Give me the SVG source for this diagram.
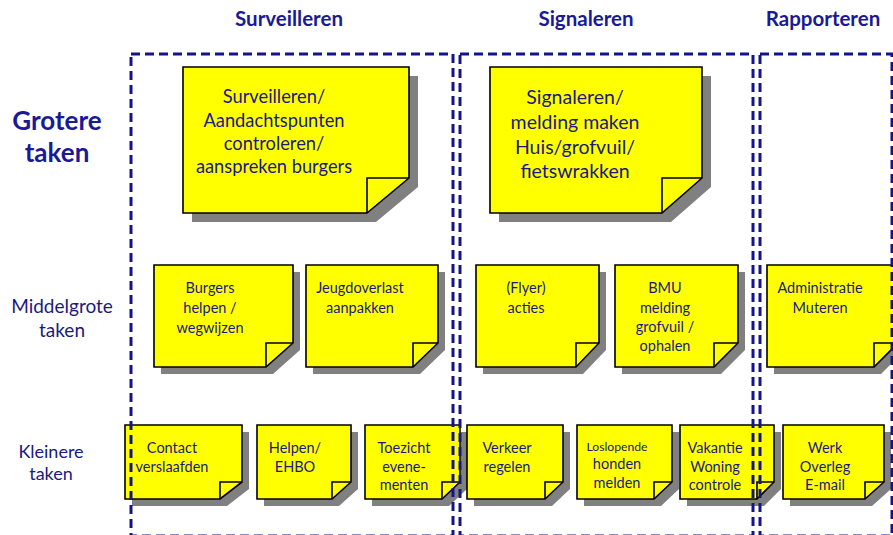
<svg xmlns="http://www.w3.org/2000/svg" width="893" height="535" viewBox="0 0 893 535">
<style>
.sh{fill:#808080}
.nt{fill:#ffff00;stroke:#000;stroke-width:1.6;stroke-linejoin:miter}
.fd{fill:none;stroke:#000;stroke-width:1.6}
.col{fill:none;stroke:#14148a;stroke-width:3;stroke-dasharray:9 5}
text{font-family:Lato,"Open Sans","Liberation Sans",sans-serif;fill:#1a1a80;text-anchor:middle}
.hd{font-size:20.5px;font-weight:bold;fill:#1a1a96}
.big{font-size:18.3px}
.big2{font-size:19.5px}
.mid{font-size:14.5px}
.sm{font-size:14.5px}
</style>
<rect width="893" height="535" fill="#fff"/>
<g id="headers">
<text class="hd" x="289" y="26">Surveilleren</text>
<text class="hd" x="586" y="26">Signaleren</text>
<text class="hd" x="823" y="26">Rapporteren</text>
</g>
<g id="rowlabels">
<text x="57" y="130" style="font-size:26px;font-weight:bold;fill:#1a1a96">Grotere</text>
<text x="57" y="162" style="font-size:26px;font-weight:bold;fill:#1a1a96">taken</text>
<text x="62" y="313" style="font-size:19px">Middelgrote</text>
<text x="62" y="337" style="font-size:19px">taken</text>
<text x="51" y="458" style="font-size:18px">Kleinere</text>
<text x="51" y="480" style="font-size:18px">taken</text>
</g>
<g id="note-surveilleren">
<path class="sh" d="M192 76H418V187L376 222H192Z"/>
<path class="nt" d="M183 67H409V178L367 213H183Z"/>
<path class="fd" d="M367 213V178H409"/>
<text class="big" x="274" y="103">Surveilleren/</text>
<text class="big" x="274" y="127">Aandachtspunten</text>
<text class="big" x="274" y="150">controleren/</text>
<text class="big" x="274" y="173">aanspreken burgers</text>
</g>
<g id="note-signaleren">
<path class="sh" d="M499 76H711V187L671 222H499Z"/>
<path class="nt" d="M490 67H702V178L662 213H490Z"/>
<path class="fd" d="M662 213V178H702"/>
<text class="big2" x="575" y="104">Signaleren/</text>
<text class="big2" x="575" y="129">melding maken</text>
<text class="big2" x="575" y="154">Huis/grofvuil/</text>
<text class="big2" x="575" y="178">fietswrakken</text>
</g>
<g id="note-burgers">
<path class="sh" d="M161 272H300V350L273 374H161Z"/>
<path class="nt" d="M154 265H293V343L266 367H154Z"/>
<path class="fd" d="M266 367V343H293"/>
<text class="mid" x="210" y="293">Burgers</text>
<text class="mid" x="210" y="313">helpen /</text>
<text class="mid" x="210" y="333">wegwijzen</text>
</g>
<g id="note-jeugd">
<path class="sh" d="M313 272H445V350L420 374H313Z"/>
<path class="nt" d="M306 265H438V343L413 367H306Z"/>
<path class="fd" d="M413 367V343H438"/>
<text class="mid" x="360" y="293">Jeugdoverlast</text>
<text class="mid" x="360" y="313">aanpakken</text>
</g>
<g id="note-flyer">
<path class="sh" d="M483 272H606V350L583 374H483Z"/>
<path class="nt" d="M476 265H599V343L576 367H476Z"/>
<path class="fd" d="M576 367V343H599"/>
<text class="mid" x="526" y="293">(Flyer)</text>
<text class="mid" x="526" y="313">acties</text>
</g>
<g id="note-bmu">
<path class="sh" d="M622 272H745V350L721 374H622Z"/>
<path class="nt" d="M615 265H738V343L714 367H615Z"/>
<path class="fd" d="M714 367V343H738"/>
<text class="mid" x="665" y="293">BMU</text>
<text class="mid" x="665" y="313">melding</text>
<text class="mid" x="665" y="332">grofvuil /</text>
<text class="mid" x="665" y="351">ophalen</text>
</g>
<g id="note-administratie">
<path class="sh" d="M774 272H905V350L881 374H774Z"/>
<path class="nt" d="M767 265H898V343L874 367H767Z"/>
<path class="fd" d="M874 367V343H898"/>
<text class="mid" x="820" y="293">Administratie</text>
<text class="mid" x="820" y="313">Muteren</text>
</g>
<g id="note-contact">
<path class="sh" d="M132 432H249V489L227 506H132Z"/>
<path class="nt" d="M125 425H242V482L220 499H125Z"/>
<path class="fd" d="M220 499V482H242"/>
<text class="sm" x="172" y="453">Contact</text>
<text class="sm" x="172" y="472">verslaafden</text>
</g>
<g id="note-helpen">
<path class="sh" d="M264 432H358V489L339 506H264Z"/>
<path class="nt" d="M257 425H351V482L332 499H257Z"/>
<path class="fd" d="M332 499V482H351"/>
<text class="sm" x="295" y="453">Helpen/</text>
<text class="sm" x="295" y="472">EHBO</text>
</g>
<g id="note-toezicht">
<path class="sh" d="M372 432H467V489L449 506H372Z"/>
<path class="nt" d="M365 425H460V482L442 499H365Z"/>
<path class="fd" d="M442 499V482H460"/>
<text class="sm" x="404" y="453">Toezicht</text>
<text class="sm" x="404" y="472">evene-</text>
<text class="sm" x="404" y="490">menten</text>
</g>
<g id="note-verkeer">
<path class="sh" d="M474 432H570V489L552 506H474Z"/>
<path class="nt" d="M467 425H563V482L545 499H467Z"/>
<path class="fd" d="M545 499V482H563"/>
<text class="sm" x="507" y="453">Verkeer</text>
<text class="sm" x="507" y="472">regelen</text>
</g>
<g id="note-loslopende">
<path class="sh" d="M584 432H679V489L661 506H584Z"/>
<path class="nt" d="M577 425H672V482L654 499H577Z"/>
<path class="fd" d="M654 499V482H672"/>
<text class="sm" x="617" y="451" style="font-size:12.2px">Loslopende</text>
<text class="sm" x="617" y="469">honden</text>
<text class="sm" x="617" y="488">melden</text>
</g>
<g id="note-vakantie">
<path class="sh" d="M687 432H781V489L764 506H687Z"/>
<path class="nt" d="M680 425H774V482L757 499H680Z"/>
<path class="fd" d="M757 499V482H774"/>
<text class="sm" x="715" y="453">Vakantie</text>
<text class="sm" x="715" y="472">Woning</text>
<text class="sm" x="715" y="490">controle</text>
</g>
<g id="note-werk">
<path class="sh" d="M790 432H891V489L872 506H790Z"/>
<path class="nt" d="M783 425H884V482L865 499H783Z"/>
<path class="fd" d="M865 499V482H884"/>
<text class="sm" x="825" y="453">Werk</text>
<text class="sm" x="825" y="472">Overleg</text>
<text class="sm" x="825" y="490">E-mail</text>
</g>
<g id="columns">
<rect class="col" x="131" y="54" width="322" height="482"/>
<rect class="col" x="460" y="54" width="293" height="482"/>
<rect class="col" x="760" y="54" width="132" height="482"/>
</g>
</svg>
